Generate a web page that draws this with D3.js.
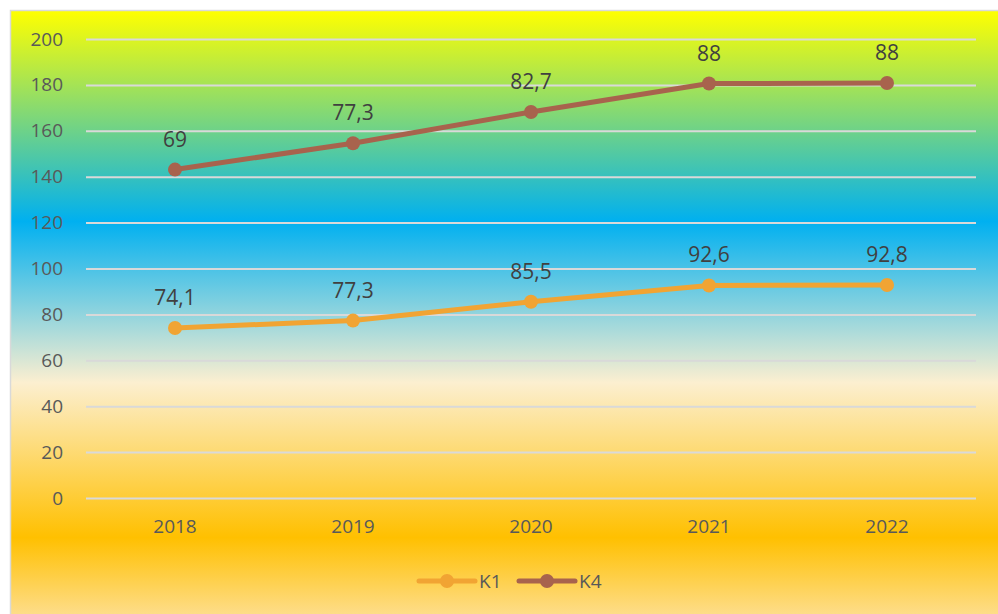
<!DOCTYPE html>
<html><head><meta charset="utf-8">
<script src="https://cdn.jsdelivr.net/npm/d3@7"></script>
<style>html,body{margin:0;padding:0;background:#fff;overflow:hidden}</style>
</head><body>
<svg id="chart" width="998" height="614"></svg>
<script>
const categories = ["2018","2019","2020","2021","2022"];
const k1 = [74.1, 77.3, 85.5, 92.6, 92.8];
const k4 = [69, 77.3, 82.7, 88, 88];
const yTicks = [0,20,40,60,80,100,120,140,160,180,200];
const seriesNames = ["K1","K4"];
const seriesColors = ["#f1a433","#a8634d"];

const svg = d3.select("#chart");
const defs = svg.append("defs");
const grad = defs.append("linearGradient").attr("id","bg").attr("x1",0).attr("y1",0).attr("x2",0).attr("y2",1);
[["0%","#ffff00"],["34%","#00b0f0"],["60%","#fcefd0"],["85%","#ffc000"],["100%","#fde3a6"]]
  .forEach(([o,c])=>grad.append("stop").attr("offset",o).attr("stop-color",c));

svg.append("rect").attr("x",10.5).attr("y",10.5).attr("width",1000).attr("height",620)
  .attr("fill","url(#bg)").attr("stroke","#d9d9d9").attr("stroke-width",1.5);

const font = "'Open Sans', sans-serif";
const x = d3.scaleBand().domain(categories).range([86,976]);
const y = d3.scaleLinear().domain([0,200]).range([498,39]);

const yAxis = d3.axisLeft(y).tickValues(yTicks).tickSize(-(976-86)).tickPadding(23);
const gy = svg.append("g").attr("transform","translate(86,0)").call(yAxis);
gy.select(".domain").remove();
gy.selectAll(".tick line").attr("stroke","#d9d9d9").attr("stroke-width",2);
gy.selectAll(".tick text").attr("fill","#595959").style("font-family",font).style("font-size","19px");

const xAxis = d3.axisBottom(x).tickSize(0).tickPadding(22);
const gx = svg.append("g").attr("transform","translate(0,498)").call(xAxis);
gx.select(".domain").remove();
gx.selectAll(".tick text").attr("fill","#595959").style("font-family",font).style("font-size","19px");

const cx = d => x(d) + x.bandwidth()/2;
const stacked = k1.map((v,i)=>v + k4[i]);
const series = [
  {name:"K1", plot:k1, labels:k1, color:seriesColors[0]},
  {name:"K4", plot:stacked, labels:k4, color:seriesColors[1]}
];
const fmt = v => String(v).replace(".",",");
const line = d3.line().x((d,i)=>cx(categories[i])).y(d=>y(d));

series.forEach(s=>{
  svg.append("path").datum(s.plot).attr("d",line).attr("fill","none")
    .attr("stroke",s.color).attr("stroke-width",5).attr("stroke-linejoin","round");
  svg.selectAll(null).data(s.plot).enter().append("circle")
    .attr("cx",(d,i)=>cx(categories[i])).attr("cy",d=>y(d)).attr("r",7).attr("fill",s.color);
  svg.selectAll(null).data(s.plot).enter().append("text")
    .attr("x",(d,i)=>cx(categories[i])).attr("y",d=>y(d)-23)
    .attr("text-anchor","middle").attr("fill","#404040")
    .style("font-family",font).style("font-size","21px")
    .text((d,i)=>fmt(s.labels[i]));
});

const leg = [{x:419},{x:519}];
series.forEach((s,i)=>{
  const lx = leg[i].x;
  svg.append("line").attr("x1",lx).attr("x2",lx+56).attr("y1",581).attr("y2",581)
    .attr("stroke",s.color).attr("stroke-width",5).attr("stroke-linecap","round");
  svg.append("circle").attr("cx",lx+28).attr("cy",581).attr("r",7).attr("fill",s.color);
  svg.append("text").attr("x",lx+60).attr("y",588).attr("fill","#595959")
    .style("font-family",font).style("font-size","19px").text(s.name);
});
</script>
</body></html>
